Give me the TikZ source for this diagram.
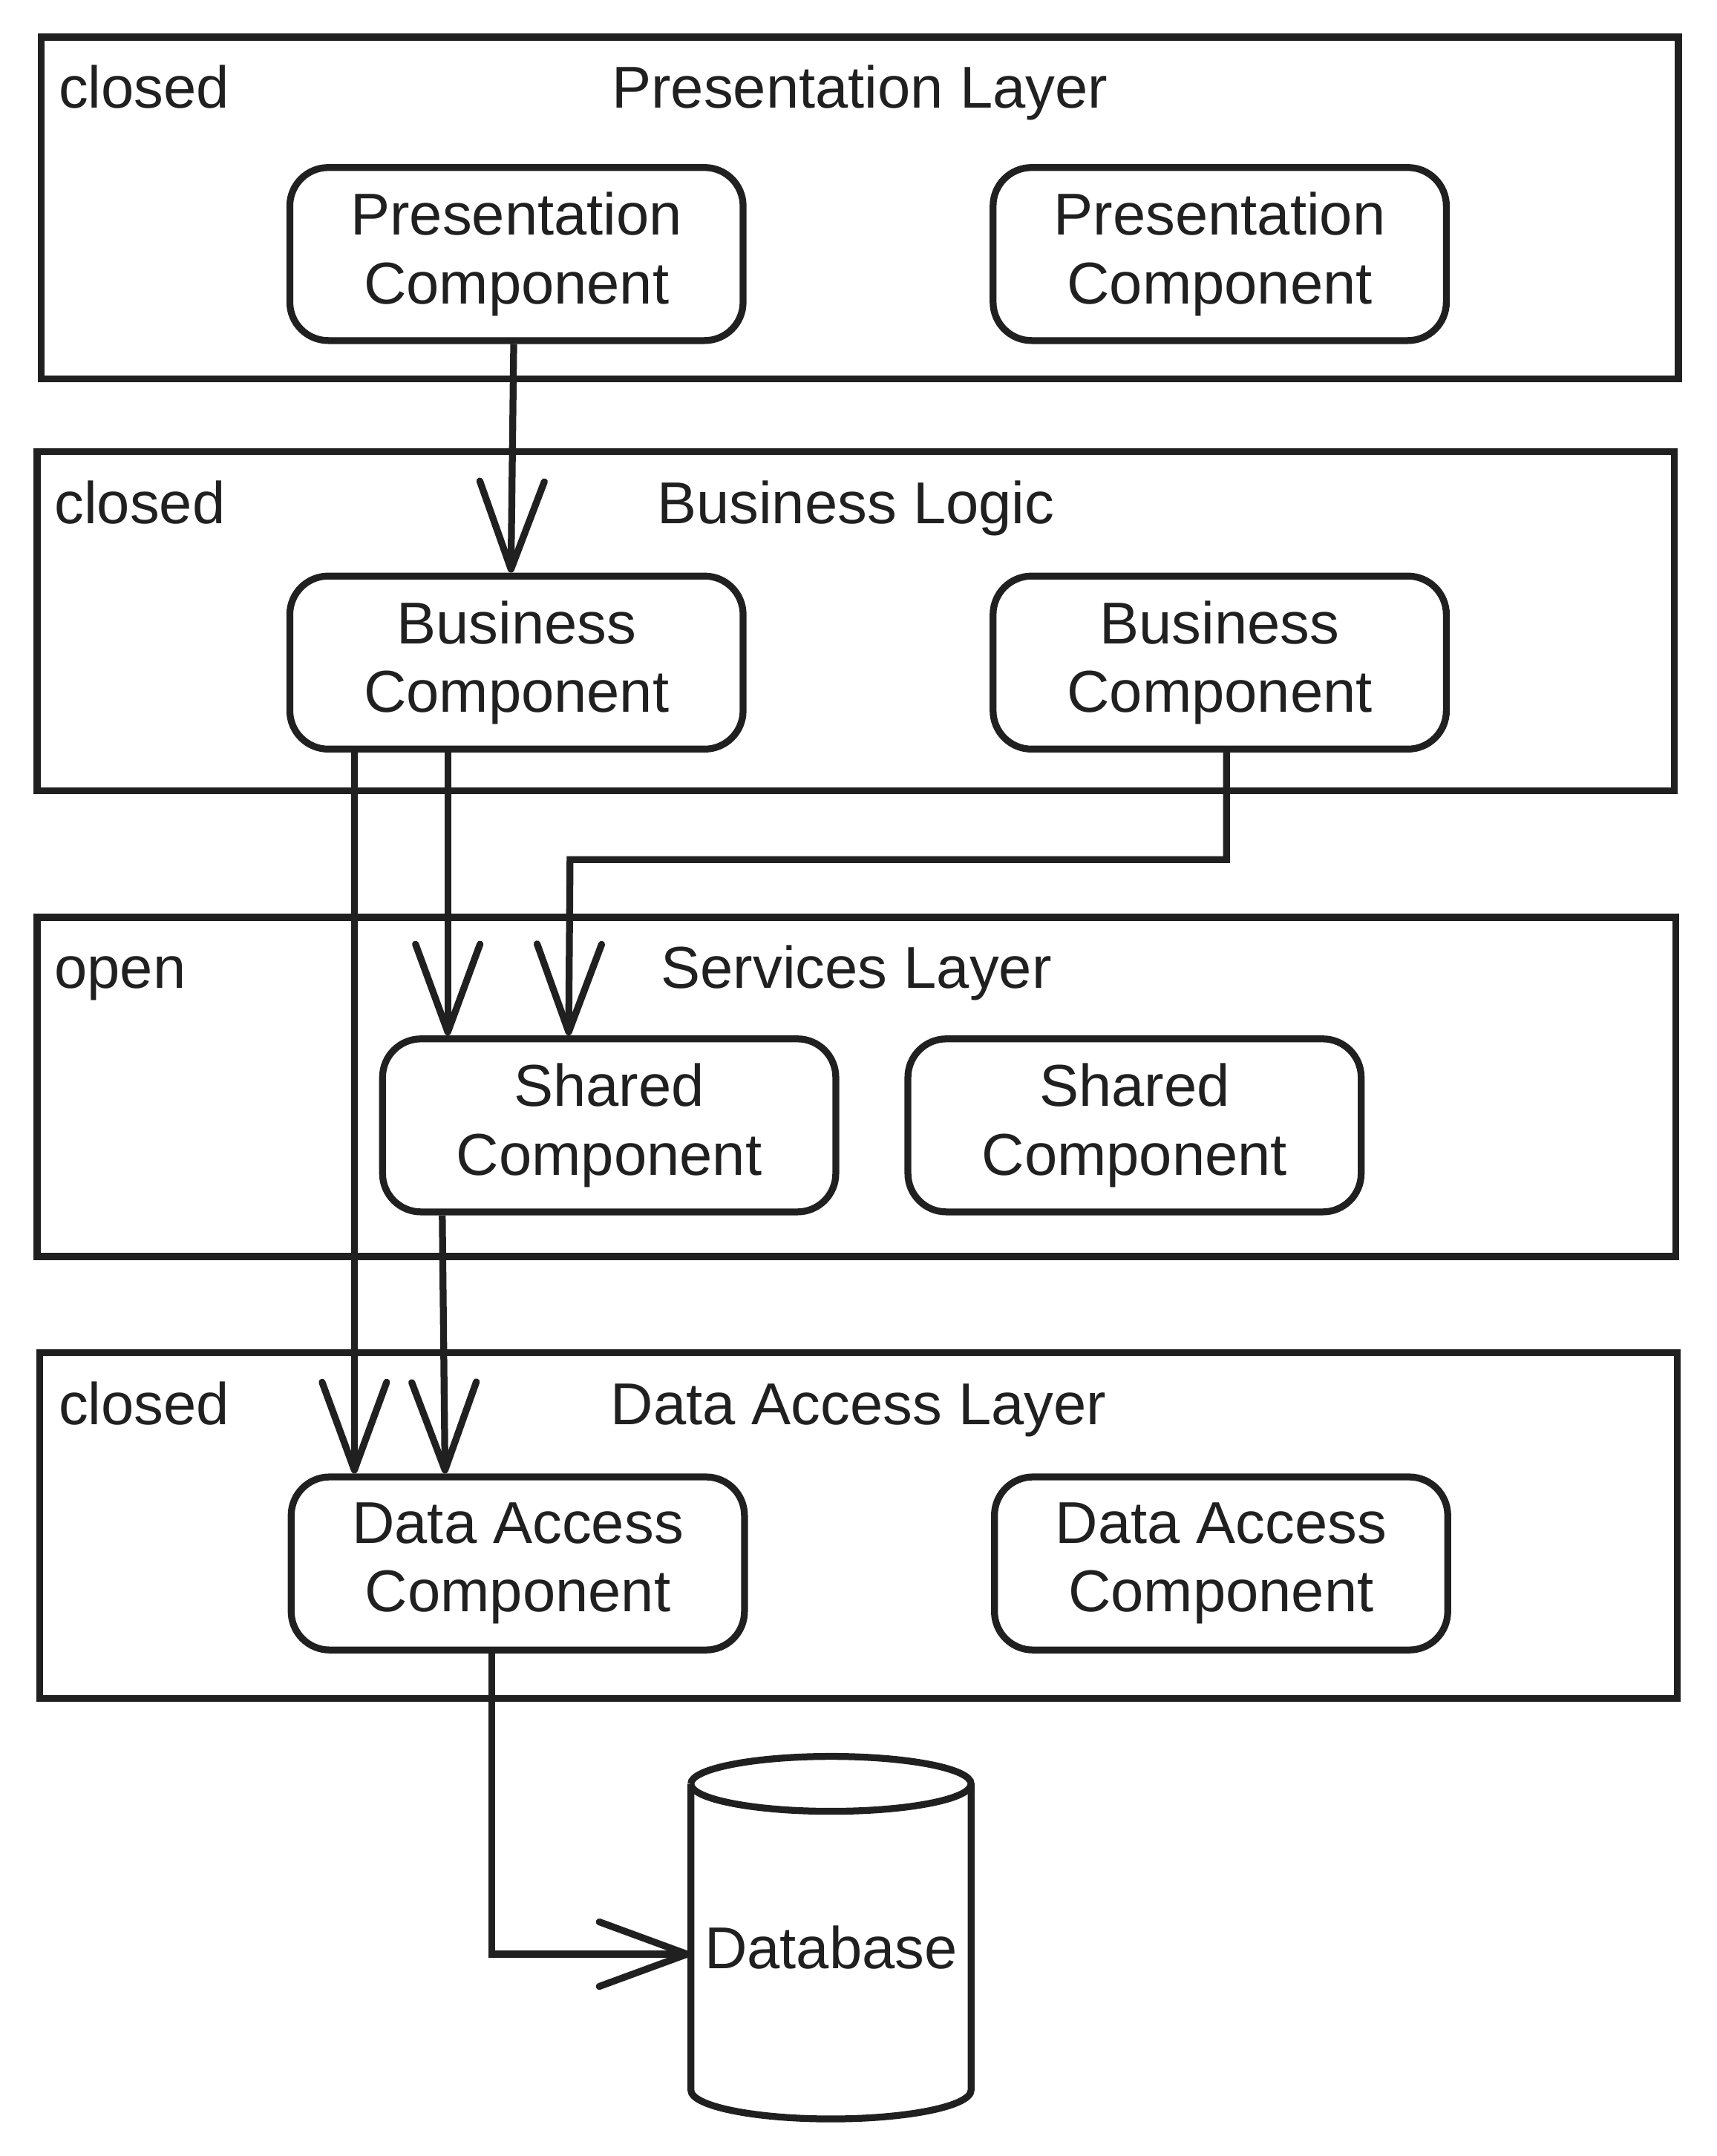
\documentclass[tikz,border=0pt]{standalone}
\usepackage{fontspec}
\setmainfont{Liberation Sans}
\usetikzlibrary{arrows.meta,calc}
\definecolor{ink}{HTML}{202020}
\begin{document}
\begin{tikzpicture}[x=1pt,y=-1pt,
  every node/.style={font=\fontsize{43}{50}\selectfont, text=ink},
  layer/.style={draw=ink, line width=5pt, inner sep=0pt},
  comp/.style={draw=ink, line width=5pt, rounded corners=28pt, minimum width=330pt, minimum height=126pt, align=center, inner sep=0pt},
  lbl/.style={inner sep=0pt, anchor=base west},
  ttl/.style={inner sep=0pt, anchor=base},
  arr/.style={draw=ink, line width=5pt, -{Straight Barb[length=64pt,width=47pt,round]}},
]
\useasboundingbox (0,0) rectangle (1250,1570);

% layers
\node[layer, minimum width=1192pt, minimum height=249pt] (L1) at (626,151.5) {};
\node[layer, minimum width=1192pt, minimum height=247pt] (L2) at (623,452.5) {};
\node[layer, minimum width=1193pt, minimum height=247pt] (L3) at (623.5,791.5) {};
\node[layer, minimum width=1192pt, minimum height=252pt] (L4) at (625,1111) {};

\node[lbl] (L1a) at ([xshift=15pt,yshift=-54pt]L1.north west) {closed};
\node[lbl] (L2a) at ([xshift=15pt,yshift=-55pt]L2.north west) {closed};
\node[lbl] (L3a) at ([xshift=15pt,yshift=-54pt]L3.north west) {open};
\node[lbl] (L4a) at ([xshift=16pt,yshift=-55pt]L4.north west) {closed};

\node[ttl] (L1t) at ([yshift=-54pt]L1.north) {Presentation Layer};
\node[ttl] (L2t) at ([yshift=-55pt]L2.north) {Business Logic};
\node[ttl] (L3t) at ([yshift=-54pt]L3.north) {Services Layer};
\node[ttl] (L4t) at ([yshift=-55pt]L4.north) {Data Access Layer};

% components
\node[comp] (P1) at (376,185) {Presentation\\Component};
\node[comp] (P2) at (888,185) {Presentation\\Component};
\node[comp] (B1) at (376,482.5) {Business\\Component};
\node[comp] (B2) at (888,482.5) {Business\\Component};
\node[comp] (S1) at (443.5,819.5) {Shared\\Component};
\node[comp] (S2) at (826,819.5) {Shared\\Component};
\node[comp] (D1) at (377,1138.5) {Data Access\\Component};
\node[comp] (D2) at (889,1138.5) {Data Access\\Component};

% database
\node[inner sep=0pt, minimum width=204pt, minimum height=244pt] (DB) at (605,1418) {Database};
\draw[ink, line width=5pt] (503,1299) arc[start angle=180, end angle=-180, x radius=102, y radius=20];
\draw[ink, line width=5pt, line join=round] (503,1299) -- (503,1522) arc[start angle=180, end angle=0, x radius=102, y radius=21] -- (707,1299);

% connectors
\draw[arr] ([xshift=-2pt]P1.south) -- ([xshift=-4pt]B1.north);
\draw[arr] ([xshift=-118pt]B1.south) -- ([xshift=-119pt]D1.north);
\draw[arr] ([xshift=-50pt]B1.south) -- ([xshift=-117.5pt]S1.north);
\draw[arr] ([xshift=5pt]B2.south) |- (415,626) -- ([xshift=-29.5pt]S1.north);
\draw[arr] ([xshift=-121.5pt]S1.south) -- ([xshift=-53pt]D1.north);
\draw[arr] ([xshift=-19pt]D1.south) |- ([yshift=-5pt]DB.west);
\end{tikzpicture}
\end{document}
